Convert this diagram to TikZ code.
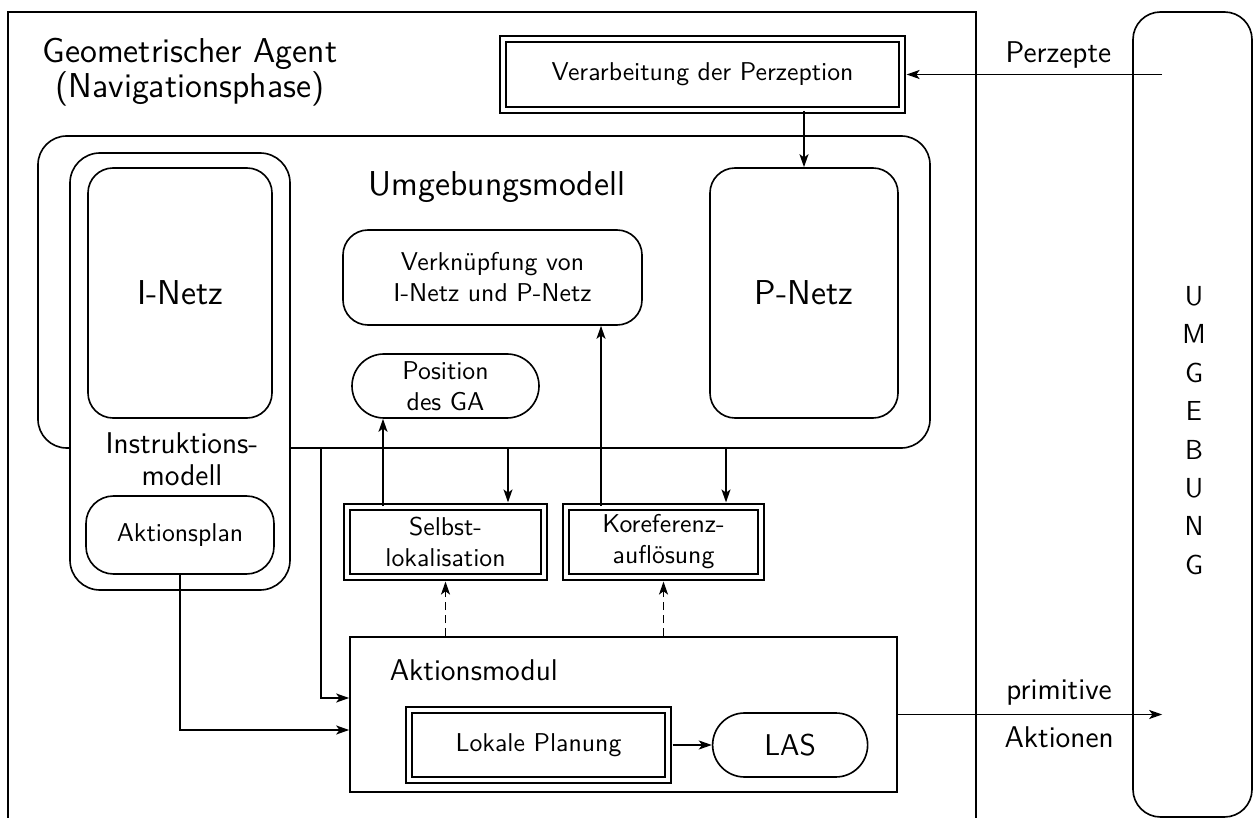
\documentclass[tikz,border=0pt]{standalone}
\usepackage{tikz}
\usetikzlibrary{positioning,calc,arrows.meta}
\newcommand{\smallfont}{\sffamily\fontsize{10.3}{12.4}\selectfont}
\newcommand{\midfont}{\sffamily\fontsize{12}{12.8}\selectfont}
\newcommand{\bigfont}{\sffamily\fontsize{13.8}{13.8}\selectfont}
\tikzset{post/.style={-{Stealth[length=5.2pt,width=3.6pt,inset=1.3pt]}},
         dpost/.style={post, dash pattern=on 3.2pt off 2pt},
         modbox/.style={draw, inner sep=0pt, font=\smallfont},
         rbox/.style={modbox, rounded corners=10pt},
         pill/.style={modbox, rounded corners=12.8pt},
         dbox/.style={modbox, double, double distance=1.8pt},
         lbl/.style={inner sep=0pt, font=\midfont}
}

\begin{document}
\begin{tikzpicture}[x=0.4pt, y=-0.4pt, line width=0.65pt]
  \useasboundingbox (0,0) rectangle (1254,818);
  % agent frame (open at the bottom)
  \draw (8,818) |- (976,12) -- (976,818);
  \node[align=center, inner sep=0pt, font=\bigfont] (agent) at (190,72) {Geometrischer Agent\\(Navigationsphase)};

  % environment
  \node[rbox, rounded corners=11pt, minimum width=47.6pt, minimum height=322pt] (umg) at (1192.5,414.5) {};
  \node[lbl, font=\sffamily\fontsize{11}{15.37}\selectfont, align=center] (umgtxt) at (1194,430.5) {U\\M\\G\\E\\B\\U\\N\\G};

  % Umgebungsmodell and Instruktionsmodell
  \node[rbox, rounded corners=11.5pt, minimum width=356.8pt, minimum height=124.8pt] (umod) at (484,292) {};
  \node[lbl, font=\bigfont] (umodtxt) at (497,187) {Umgebungsmodell};
  \node[rbox, rounded corners=12pt, fill=white, minimum width=88pt, minimum height=174.8pt] (imod) at (180,371.5) {};
  \node[lbl, align=center] (imodtxt) at (182,459) {Instruktions-\\modell};
  \node[rbox, font=\bigfont, minimum width=73.6pt, minimum height=100pt] (inetz) at (180,293) {I-Netz};
  \node[rbox, font=\bigfont, minimum width=75.2pt, minimum height=100pt] (pnetz) at (804,293) {P-Netz};
  \node[rbox, align=center, minimum width=119.6pt, minimum height=38pt] (verkn) at (492.5,277.5) {Verknüpfung von\\I-Netz und P-Netz};
  \node[pill, align=center, minimum width=74.8pt, minimum height=25.6pt] (pos) at (445.5,386) {Position\\des GA};
  \node[rbox, rounded corners=11pt, minimum width=75.2pt, minimum height=31.2pt] (aplan) at (180,535) {Aktionsplan};

  % processes
  \node[dbox, minimum width=159.6pt, minimum height=28.4pt] (verarb) at (702.5,74.5) {Verarbeitung der Perzeption};
  \node[dbox, align=center, minimum width=78.8pt, minimum height=28pt] (selbst) at (445.5,542) {Selbst-\\lokalisation};
  \node[dbox, align=center, minimum width=78pt, minimum height=28pt] (koref) at (663.5,542) {Koreferenz-\\auflösung};

  % Aktionsmodul
  \node[modbox, minimum width=218.8pt, minimum height=62pt] (amod) at (623.5,714.5) {};
  \node[lbl, anchor=west] (amodtxt) at (389,670) {Aktionsmodul};
  \node[dbox, minimum width=103.6pt, minimum height=28pt] (lplan) at (538.5,745) {Lokale Planung};
  \node[pill, font=\midfont, minimum width=62pt, minimum height=25.6pt, right=17.2pt of lplan] (las) {LAS};

  % connections
  \coordinate (perzIn) at ([xshift=12pt]umg.west |- verarb.east);
  \coordinate (aktOut) at ([xshift=12pt]umg.west |- amod.east);
  \coordinate (busA) at (321,448);
  \draw[post, shorten >=1.5pt] (perzIn) -- node[lbl, above=2pt, pos=0.4] (perztxt) {Perzepte} (verarb.east);
  \draw[post] (verarb.south -| pnetz.north) -- (pnetz.north);
  \draw[post] (busA) |- ([yshift=6.6pt]amod.west);
  \draw[post] (aplan.south) |- ([yshift=-6.2pt]amod.west);
  \draw[post] ([xshift=-25pt]selbst.north) -- ([xshift=-25pt]selbst.north |- pos.south);
  \draw[post, shorten >=1.5pt] ([xshift=25pt]selbst.north |- umod.south) -- ([xshift=25pt]selbst.north);
  \draw[post] ([xshift=-25pt]koref.north) -- ([xshift=-25pt]koref.north |- verkn.south);
  \draw[post, shorten >=1.5pt] ([xshift=25pt]koref.north |- umod.south) -- ([xshift=25pt]koref.north);
  \draw[dpost, shorten >=1.5pt] (amod.north -| selbst.south) -- (selbst.south);
  \draw[dpost, shorten >=1.5pt] (amod.north -| koref.south) -- (koref.south);
  \draw[post, shorten <=1.5pt] (lplan.east) -- (las.west);
  \draw[post] (amod.east) -- node[lbl, above=3.5pt, pos=0.61] (primtxt) {primitive}
                             node[lbl, below=4.4pt, pos=0.61] (akttxt) {Aktionen} (aktOut);
\end{tikzpicture}
\end{document}
